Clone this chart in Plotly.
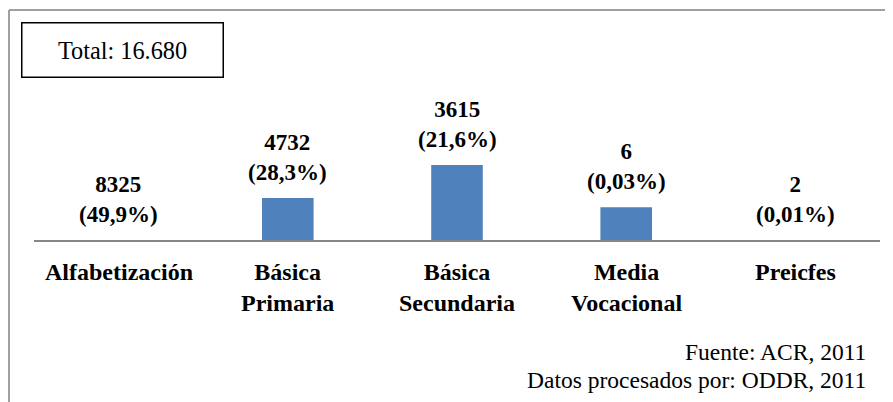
import plotly.graph_objects as go

category_lines = [["Alfabetización"], ["Básica", "Primaria"], ["Básica", "Secundaria"],
                  ["Media", "Vocacional"], ["Preicfes"]]
categories = [" ".join(l) for l in category_lines]
counts = ["8325", "4732", "3615", "6", "2"]
percents = ["(49,9%)", "(28,3%)", "(21,6%)", "(0,03%)", "(0,01%)"]
# bar heights as drawn in the reference (arbitrary chart units)
bar_heights = [0, 21, 37.5, 16.4, 0]
total_label = "Total: 16.680"
source_lines = ["Fuente: ACR, 2011", "Datos procesados por: ODDR, 2011"]

FONT = "Liberation Serif, Times New Roman, serif"
OFF = 8  # page body margin
W, H = 893, 402
ML, MR, MT, MB = 34 - OFF, 13 + OFF, 10 - OFF, 162 + OFF
PW = W - ML - MR
PH = H - MT - MB


def px_x(x):
    return (x - OFF - ML) / PW


def px_y(y):
    return (H - MB - (y - OFF)) / PH


fig = go.Figure()
fig.add_trace(go.Bar(
    x=categories, y=bar_heights,
    marker=dict(color="#4F81BD", line=dict(width=0)),
    hoverinfo="skip",
))

# value labels
for cat, h, c, p in zip(categories, bar_heights, counts, percents):
    fig.add_annotation(
        x=cat, y=h, xref="x", yref="y",
        text=f"<b>{c}</b><br><b>{p}</b>",
        showarrow=False, yanchor="bottom", yshift=11,
        font=dict(family=FONT, size=23, color="black"),
    )

# category labels
CAT_SIZE = 24
for cat, lines in zip(categories, category_lines):
    n = len(lines)
    yc = 272 + (n - 1) * CAT_SIZE * 1.3 / 2
    fig.add_annotation(
        x=cat, xref="x", y=px_y(yc), yref="paper",
        text="<br>".join(f"<b>{l}</b>" for l in lines), showarrow=False,
        xanchor="center", yanchor="middle",
        font=dict(family=FONT, size=CAT_SIZE, color="black"),
    )

# Total box
fig.add_annotation(
    x=px_x(122.5), y=px_y(50), xref="paper", yref="paper",
    text=total_label, showarrow=False,
    width=198, height=51, bordercolor="black", borderwidth=1.5,
    font=dict(family=FONT, size=24.3, color="black"),
    xanchor="center", yanchor="middle",
)

# Source lines
for txt, yy in zip(source_lines, [352, 380]):
    fig.add_annotation(
        x=px_x(868), y=px_y(yy), xref="paper", yref="paper",
        text=txt, showarrow=False, xanchor="right", yanchor="middle",
        font=dict(family=FONT, size=23.5, color="black"),
    )

# Outer frame (top and left grey lines)
fig.add_shape(type="line", xref="paper", yref="paper",
              x0=px_x(9), x1=px_x(910), y0=px_y(10), y1=px_y(10),
              line=dict(color="#A0A0A0", width=2))
fig.add_shape(type="line", xref="paper", yref="paper",
              x0=px_x(9), x1=px_x(9), y0=px_y(10), y1=px_y(420),
              line=dict(color="#A0A0A0", width=2))

fig.update_layout(
    width=W, height=H,
    margin=dict(l=ML, r=MR, t=MT, b=MB),
    paper_bgcolor="white", plot_bgcolor="white",
    showlegend=False, bargap=0.695,
    font=dict(family=FONT, color="black"),
)
fig.update_xaxes(
    showline=True, linecolor="#868686", linewidth=2,
    showgrid=False, zeroline=False, showticklabels=False, ticks="",
)
fig.update_yaxes(range=[0, 115], visible=False, showgrid=False, zeroline=False)

fig.write_html("out.html")
